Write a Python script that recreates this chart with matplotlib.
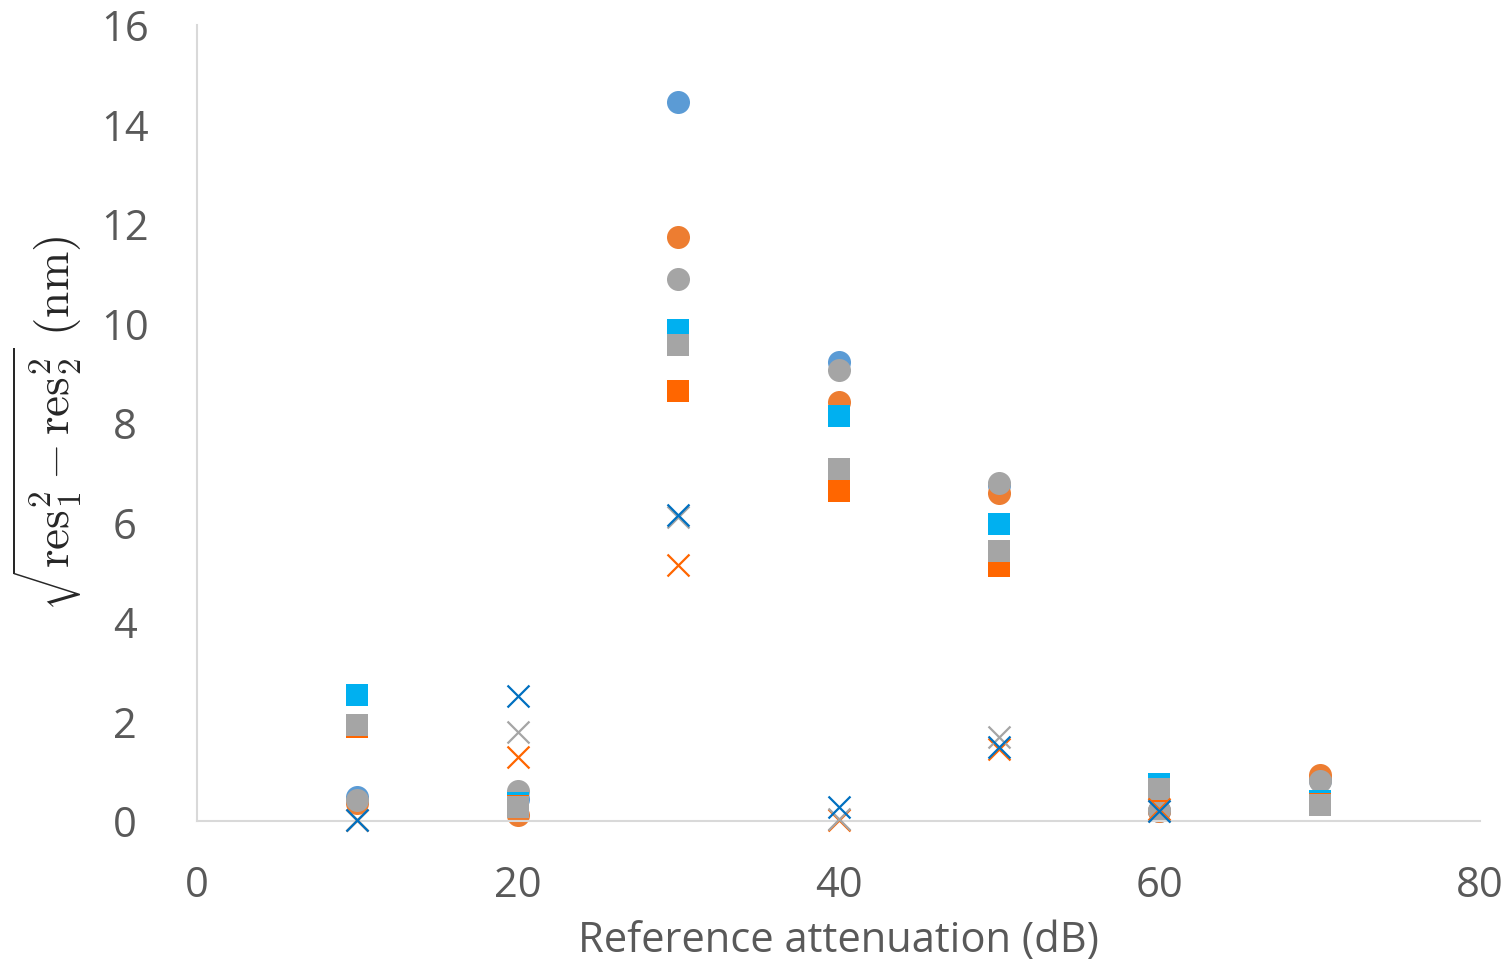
import numpy as np
import matplotlib
matplotlib.use("Agg")
import matplotlib.pyplot as plt

plt.rcParams['mathtext.fontset'] = 'cm'

x = [10, 20, 30, 40, 50, 60, 70]

# circles
circ_blue = [0.48, 0.45, 14.45, 9.22, 6.75, 0.2, 0.82]
circ_orange = [0.36, 0.12, 11.74, 8.42, 6.59, 0.2, 0.93]
circ_gray = [0.42, 0.6, 10.9, 9.07, 6.79, 0.22, 0.8]

# squares
sq_cyan = [2.53, 0.36, 9.87, 8.14, 5.97, 0.74, 0.4]
sq_orange = [1.9, 0.3, 8.64, 6.63, 5.13, 0.6, 0.35]
sq_gray = [1.93, 0.28, 9.57, 7.08, 5.43, 0.65, 0.32]

# crosses
x_cross = [10, 20, 30, 40, 50, 60]
cr_blue = [0.02, 2.51, 6.15, 0.28, 1.49, 0.2]
cr_orange = [0.02, 1.29, 5.15, 0.02, 1.45, 0.25]
cr_gray = [0.02, 1.79, 6.12, 0.05, 1.69, 0.2]

fig = plt.figure(figsize=(15.09, 9.65), dpi=100)
ax = fig.add_axes([0.1306, 0.1492, 0.8502, 0.8248])

kw = dict(linewidths=0, clip_on=False)
ax.scatter(x, circ_blue, s=275, marker='o', color='#5B9BD5', zorder=2, **kw)
ax.scatter(x, circ_orange, s=275, marker='o', color='#ED7D31', zorder=2, **kw)
ax.scatter(x, circ_gray, s=275, marker='o', color='#A5A5A5', zorder=2, **kw)

ax.scatter(x, sq_cyan, s=250, marker='s', color='#00B0F0', zorder=3, **kw)
ax.scatter(x, sq_orange, s=250, marker='s', color='#FF6600', zorder=3, **kw)
ax.scatter(x, sq_gray, s=250, marker='s', color='#A5A5A5', zorder=3, **kw)

ax.scatter(x_cross, cr_orange, s=250, marker='x', color='#FF6600', linewidths=1.6, zorder=4, clip_on=False)
ax.scatter(x_cross, cr_gray, s=250, marker='x', color='#A5A5A5', linewidths=1.6, zorder=4, clip_on=False)
ax.scatter(x_cross, cr_blue, s=250, marker='x', color='#0070C0', linewidths=1.6, zorder=4, clip_on=False)

ax.set_xlim(0, 80)
ax.set_ylim(0, 16)
ax.set_xticks([0, 20, 40, 60, 80])
ax.set_yticks(range(0, 17, 2))
ax.tick_params(length=0, labelsize=30, labelcolor='#595959')
ax.tick_params(axis='x', pad=32)
ax.tick_params(axis='y', pad=52)
for lab in ax.get_yticklabels():
    lab.set_horizontalalignment('center')
for lab in ax.get_xticklabels() + ax.get_yticklabels():
    lab.set_fontfamily('Open Sans')

for s in ['top', 'right']:
    ax.spines[s].set_visible(False)
for s in ['left', 'bottom']:
    ax.spines[s].set_color('#D9D9D9')
    ax.spines[s].set_linewidth(1.5)
ax.set_axisbelow(True)

ax.set_xlabel('Reference attenuation (dB)', fontsize=30, color='#595959', family='Open Sans', labelpad=9)
ax.set_ylabel(r'$\sqrt{\mathrm{res}_1^2 - \mathrm{res}_2^2}\ (\mathrm{nm})$', fontsize=34, color='#262626', labelpad=12)

fig.savefig('out.png', dpi=100)
